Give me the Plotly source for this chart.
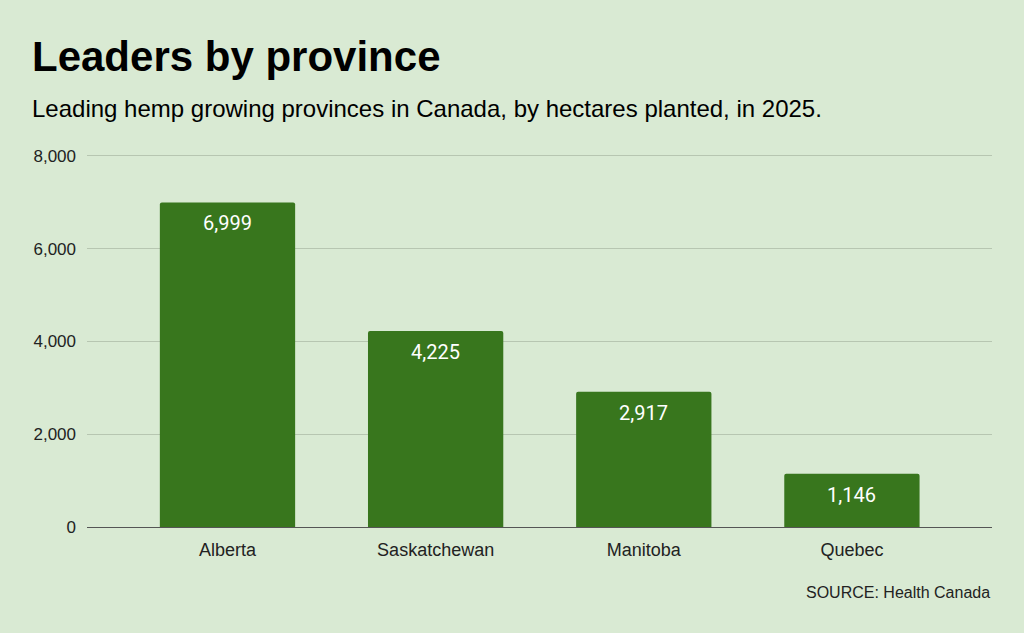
import plotly.graph_objects as go

provinces = ["Alberta", "Saskatchewan", "Manitoba", "Quebec"]
hectares = [6999, 4225, 2917, 1146]
y_ticks = [0, 2000, 4000, 6000, 8000]
y_tick_labels = ["0", "2,000", "4,000", "6,000", "8,000"]

BG = "#d9ead3"
BAR = "#38761d"

fig = go.Figure(go.Bar(
    x=provinces,
    y=hectares,
    width=0.65,
    marker=dict(color=BAR, cornerradius=2, line=dict(width=0)),
    hoverinfo="skip",
))

# value labels just under the top of each bar
for p, v in zip(provinces, hectares):
    fig.add_annotation(x=p, y=v, text=f"{v:,}", showarrow=False,
                       yanchor="top", yshift=-7,
                       font=dict(family="Roboto", size=20, color="white"))

# paper coords: plot area is 373px tall starting at 154px from the top
fig.add_annotation(text="<b>Leaders by province</b>", xref="paper", yref="paper",
                   x=-0.063, y=1.193, xanchor="left", yanchor="bottom", showarrow=False,
                   font=dict(family="Liberation Sans", size=42, color="black"))
fig.add_annotation(text="Leading hemp growing provinces in Canada, by hectares planted, in 2025.",
                   xref="paper", yref="paper", x=-0.063, y=1.08,
                   xanchor="left", yanchor="bottom", showarrow=False,
                   font=dict(family="Liberation Sans", size=24, color="black"))
fig.add_annotation(text="SOURCE: Health Canada", xref="paper", yref="paper",
                   x=1.0, y=-0.147, xanchor="right", yanchor="top", showarrow=False,
                   font=dict(family="Liberation Sans", size=16, color="#222222"))

fig.update_layout(
    width=1024, height=633,
    paper_bgcolor=BG, plot_bgcolor=BG,
    margin=dict(l=87, r=32, t=154, b=106),
    showlegend=False,
    font=dict(family="Liberation Sans", size=17, color="#222222"),
)
fig.update_xaxes(range=[-0.675, 3.673], showgrid=False, showline=True,
                 linecolor="#555555", linewidth=1.2, ticks="",
                 ticklabelstandoff=6,
                 tickfont=dict(size=18, color="#222222"))
fig.update_yaxes(range=[0, 8043], tickvals=y_ticks, ticktext=y_tick_labels,
                 gridcolor="#b7c6b1", gridwidth=1, zeroline=False,
                 ticks="", ticklabelstandoff=10,
                 tickfont=dict(size=17, color="#222222"))

fig.write_html("out.html", config={"displayModeBar": False},
               post_script="document.body.style.margin='0';")
